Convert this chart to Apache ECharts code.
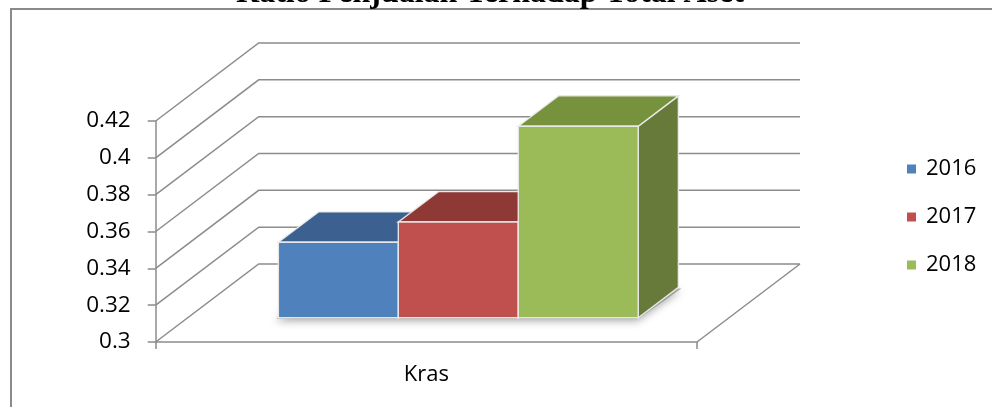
<!DOCTYPE html>
<html>
<head>
<meta charset="utf-8">
<script src="https://cdn.jsdelivr.net/npm/echarts@6/dist/echarts.min.js"></script>
<style>
html,body{margin:0;padding:0;background:#fff;}
#chart{width:992px;height:407px;}
</style>
</head>
<body>
<div id="chart"></div>
<script>
// ---- data ----
const categories = ['Kras'];
const years = ['2016', '2017', '2018'];
const values2016 = [0.341];
const values2017 = [0.352];
const values2018 = [0.404];
const yTicks = [0.3, 0.32, 0.34, 0.36, 0.38, 0.40, 0.42];
const chartTitle = 'Ratio Penjualan Terhadap Total Aset';

// ---- style ----
const DX = 103, DY = -78;          // depth vector of the 3D box
const F1 = 0.31, F2 = 0.70;        // bar front/back depth fractions
const BAR_FRAC = 0.2216;           // bar width as fraction of band
const GRID = '#8c8c8c';
const FRONT = ['#4F81BD', '#C0504D', '#9BBB59'];
const TOP = ['#3C6190', '#8F3936', '#77923C'];
const SIDE = ['#3A5E8A', '#8A3533', '#677A3A'];
const FONT = 'Open Sans';

const chart = echarts.init(document.getElementById('chart'), null, {renderer: 'canvas'});

function renderWall(params, api) {
  const cs = params.coordSys;
  const y = api.coord([0, api.value(1)])[1];
  const x0 = cs.x, x1 = cs.x + cs.width;
  const children = [{
    type: 'polyline',
    shape: {points: [[x0, y], [x0 + DX, y + DY], [x1 + DX, y + DY]]},
    style: {stroke: GRID, lineWidth: 1.5, fill: null}
  }];
  if (params.dataIndex === 0) {
    children.push({type: 'line', shape: {x1: x1, y1: y, x2: x1 + DX, y2: y + DY},
      style: {stroke: GRID, lineWidth: 1.5}});
  }
  return {type: 'group', children: children};
}

function renderShadow(params, api) {
  const base = api.coord([api.value(0), yTicks[0]]);
  const band = api.size([1, 0])[0];
  const bw = band * BAR_FRAC;
  const x0 = base[0] - 1.5 * bw + F1 * DX;
  const x1 = base[0] + 1.5 * bw + F1 * DX;
  const yb = base[1] + F1 * DY;
  const ddx = (F2 - F1) * DX, ddy = (F2 - F1) * DY;
  return {
    type: 'polygon',
    shape: {points: [[x0 - 2, yb + 1], [x1, yb + 1], [x1 + ddx + 3, yb + ddy + 1], [x0 + ddx, yb + ddy]]},
    style: {fill: 'rgba(120,120,120,0.6)', shadowBlur: 8, shadowOffsetY: 2, shadowOffsetX: -1, shadowColor: 'rgba(0,0,0,0.6)'}
  };
}

function makeBar(idx) {
  return function (params, api) {
    const v = api.value(1);
    const base = api.coord([api.value(0), yTicks[0]]);
    const top = api.coord([api.value(0), v]);
    const band = api.size([1, 0])[0];
    const bw = band * BAR_FRAC;
    const x0 = base[0] + (idx - 1.5) * bw + F1 * DX;
    const x1 = x0 + bw;
    const yb = base[1] + F1 * DY;
    const yt = top[1] + F1 * DY;
    const ddx = (F2 - F1) * DX, ddy = (F2 - F1) * DY;
    const edge = {stroke: 'rgba(235,235,235,0.95)', lineWidth: 1.4};
    return {
      type: 'group',
      children: [
        {type: 'polygon', shape: {points: [[x1, yt], [x1 + ddx, yt + ddy], [x1 + ddx, yb + ddy], [x1, yb]]},
          style: Object.assign({fill: SIDE[idx]}, edge)},
        {type: 'polygon', shape: {points: [[x0, yt], [x1, yt], [x1 + ddx, yt + ddy], [x0 + ddx, yt + ddy]]},
          style: Object.assign({fill: TOP[idx]}, edge)},
        {type: 'rect', shape: {x: x0, y: yt, width: bw, height: yb - yt},
          style: Object.assign({fill: FRONT[idx]}, edge)}
      ]
    };
  };
}

const seriesValues = [values2016, values2017, values2018];

const option = {
  animation: false,
  backgroundColor: '#fff',
  graphic: [
    {type: 'polyline', silent: true, shape: {points: [[11, 430], [11, 9], [1010, 9]]},
      style: {stroke: '#8a8a8a', lineWidth: 2, fill: null}},
    {type: 'text', silent: true, x: 490, y: -6,
      style: {text: chartTitle, align: 'center', verticalAlign: 'middle',
        font: 'bold 32px "Liberation Serif", "Times New Roman", serif', fill: '#000'}}
  ],
  legend: {
    data: years,
    orient: 'vertical',
    left: 902,
    top: 153,
    itemWidth: 9,
    itemHeight: 9,
    itemGap: 26,
    icon: 'rect',
    textStyle: {fontFamily: FONT, fontSize: 22, color: '#000', lineHeight: 22, padding: [0, 0, 0, 5]}
  },
  grid: {left: 155.7, right: 295, top: 121, bottom: 65, containLabel: false},
  xAxis: {
    type: 'category',
    data: categories,
    axisLine: {lineStyle: {color: GRID, width: 1.5}},
    axisTick: {show: true, length: 7, lineStyle: {color: GRID, width: 1.5}},
    axisLabel: {fontFamily: FONT, fontSize: 22, color: '#000', margin: 22},
    splitLine: {show: false}
  },
  yAxis: {
    type: 'value',
    min: 0.3,
    max: 0.42,
    interval: 0.02,
    axisLine: {show: true, lineStyle: {color: GRID, width: 1.5}},
    axisTick: {show: true, length: 8, lineStyle: {color: GRID, width: 1.5}},
    axisLabel: {fontFamily: FONT, fontSize: 22.5, color: '#000', margin: 25},
    splitLine: {show: false}
  },
  series: [
    {type: 'custom', name: 'walls', silent: true, renderItem: renderWall,
      data: yTicks.map(v => [0, v]), encode: {x: 0, y: 1}, z: 1},
    {type: 'custom', name: 'shadow', silent: true, renderItem: renderShadow,
      data: [[0, yTicks[0]]], encode: {x: 0, y: 1}, z: 2}
  ].concat(years.map((y, i) => ({
    type: 'custom',
    name: y,
    renderItem: makeBar(i),
    itemStyle: {color: FRONT[i]},
    data: categories.map((c, k) => [k, seriesValues[i][k]]),
    encode: {x: 0, y: 1},
    z: 3
  })))
};
chart.setOption(option);
</script>
</body>
</html>
